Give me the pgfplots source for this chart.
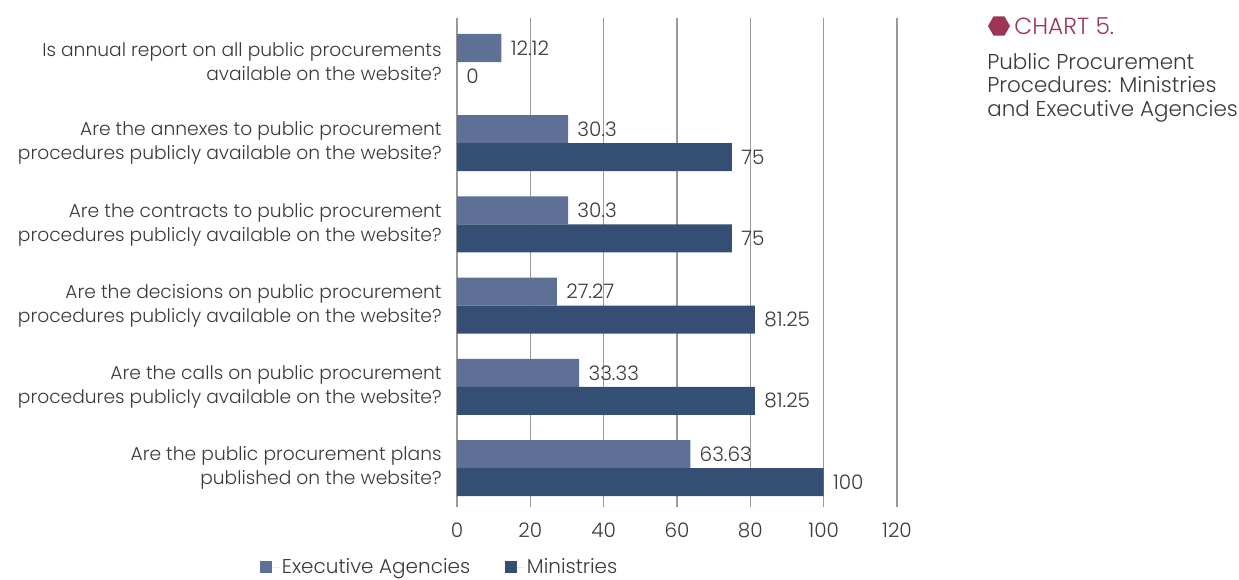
\documentclass[border=0pt]{standalone}
\usepackage{pgfplots}
\pgfplotsset{compat=1.18}
\usetikzlibrary{shapes.geometric}
\usepackage{fontspec}
\setmainfont{Poppins Light}

\definecolor{agency}{HTML}{5E7096}
\definecolor{ministry}{HTML}{354F74}
\definecolor{titlered}{HTML}{9C3653}
\definecolor{txt}{HTML}{3A3A3A}
\definecolor{gridgray}{HTML}{9A9A9A}

\newcommand{\catfont}{\fontsize{14}{18}\selectfont}
\newcommand{\numfont}{\fontsize{15}{18}\selectfont}

\begin{document}
\begin{tikzpicture}[font=\catfont, text=txt]
  % page size (1px = 0.75pt)
  \useasboundingbox (-342.75pt,-54.75pt) rectangle (586.5pt,380.25pt);

  \begin{axis}[
      xbar,
      scale only axis,
      width=330pt,
      height=366.75pt,
      xmin=0, xmax=120,
      ymin=-0.48, ymax=5.542,
      bar width=0.345,
      xtick={0,20,...,120},
      ytick={0,...,5},
      yticklabels={
        {Are the public procurement plans\\published on the website?},
        {Are the calls on public procurement\\procedures publicly available on the website?},
        {Are the decisions on public procurement\\procedures publicly available on the website?},
        {Are the contracts to public procurement\\procedures publicly available on the website?},
        {Are the annexes to public procurement\\procedures publicly available on the website?},
        {Is annual report on all public procurements\\available on the website?}
      },
      yticklabel style={align=right, font=\catfont, text=txt},
      xticklabel style={font=\numfont, text=txt},
      /pgf/number format/assume math mode=true,
      major tick length=0pt,
      ytick style={draw=none},
      xtick style={draw=none},
      xticklabel shift=8.5pt,
      yticklabel shift=8pt,
      xmajorgrids,
      major grid style={gridgray, line width=0.8pt},
      axis line style={draw=none},
      nodes near coords,
      every node near coord/.append style={font=\numfont, text=txt, anchor=west, xshift=3.5pt},
      legend style={
        at={(axis description cs:-0.4575,-0.123)},
        anchor=west,
        draw=none, fill=none,
        font=\fontsize{15}{18}\selectfont,
        text=txt,
        /tikz/every even column/.append style={column sep=24pt}
      },
      legend columns=2,
      legend image code/.code={
        \fill[#1] (0pt,-4.5pt) rectangle (9pt,4.5pt);
        \path (0pt,0pt) -- (14.5pt,0pt);
      }
    ]

    % Executive Agencies (upper bar of each pair)
    \addplot[fill=agency, draw=none, bar shift=0.1725] coordinates {
      (63.63,0) (33.33,1) (27.27,2) (30.3,3) (30.3,4) (12.12,5)
    };
    % Ministries (lower bar of each pair)
    \addplot[fill=ministry, draw=none, bar shift=-0.1725] coordinates {
      (100,0) (81.25,1) (81.25,2) (75,3) (75,4) (0,5)
    };

    \legend{Executive Agencies, Ministries}
  \end{axis}

  % chart caption on the right
  \node[regular polygon, regular polygon sides=6, fill=titlered, minimum width=16.5pt, inner sep=0pt] at (406.5pt,360.75pt) {};
  \node[anchor=base west, inner sep=0pt, text=titlered, font=\fontsize{17.5}{18}\selectfont] at (417.75pt,354pt) {CHART 5.};
  \node[anchor=base west, inner sep=0pt, font=\fontsize{16.1}{18}\selectfont] at (397.5pt,327.75pt) {Public Procurement};
  \node[anchor=base west, inner sep=0pt, font=\fontsize{16.1}{18}\selectfont] at (397.5pt,310.5pt) {Procedures: Ministries};
  \node[anchor=base west, inner sep=0pt, font=\fontsize{16.1}{18}\selectfont] at (397.5pt,292.5pt) {and Executive Agencies};
\end{tikzpicture}
\end{document}
